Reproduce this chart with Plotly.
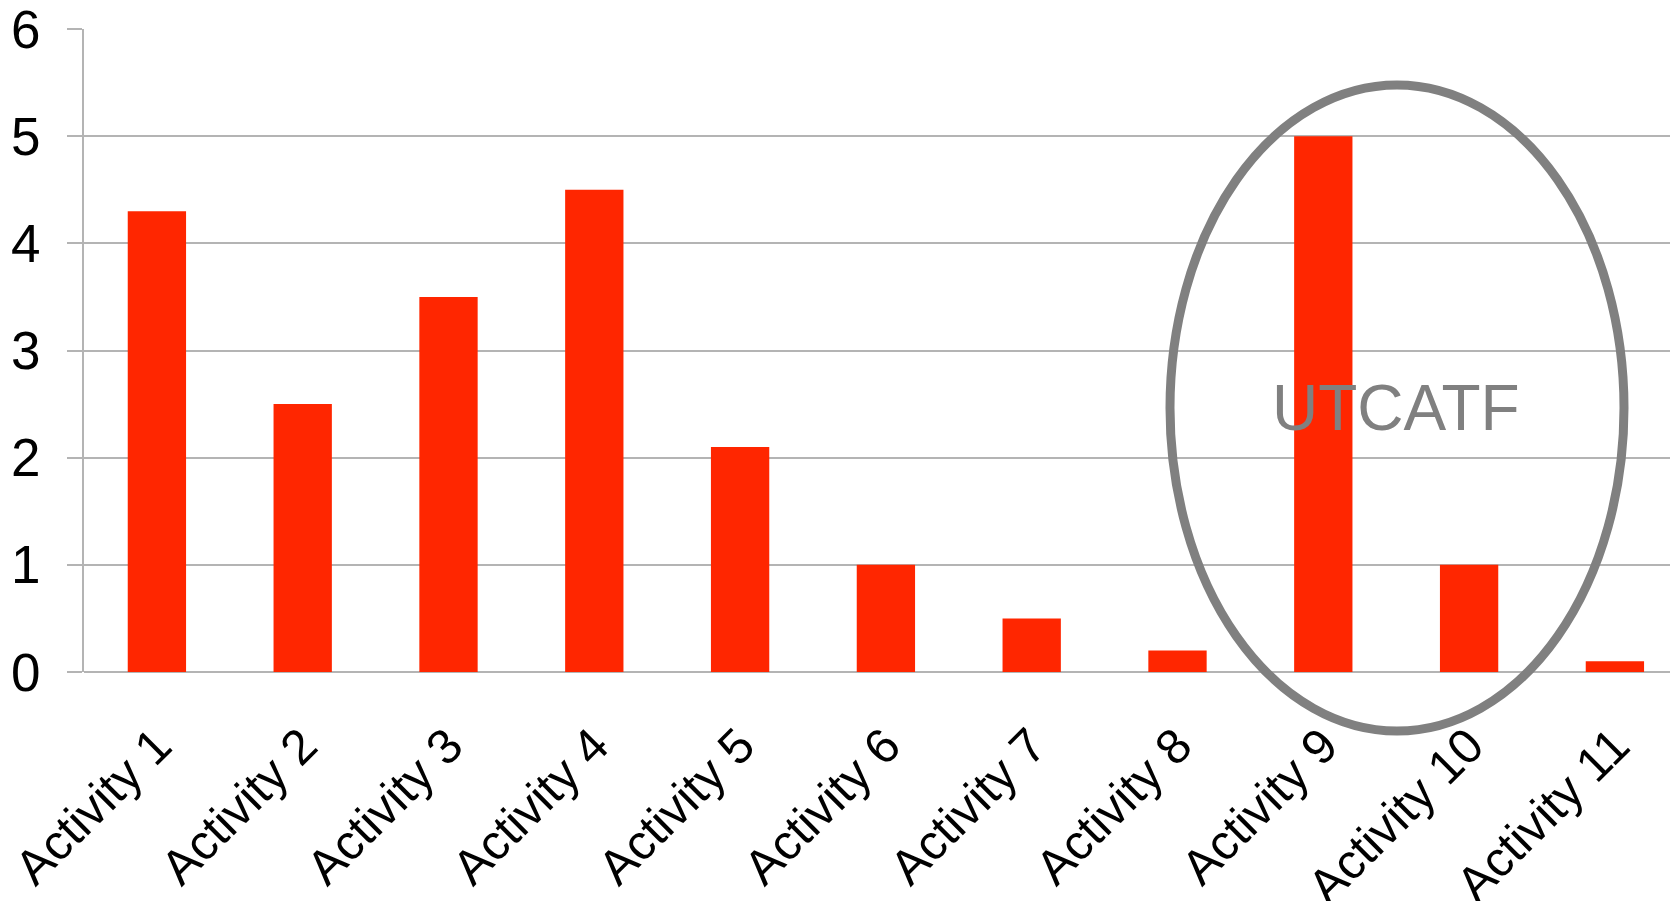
import plotly.graph_objects as go

categories = ["Activity 1", "Activity 2", "Activity 3", "Activity 4", "Activity 5",
              "Activity 6", "Activity 7", "Activity 8", "Activity 9", "Activity 10",
              "Activity 11"]
values = [4.3, 2.5, 3.5, 4.5, 2.1, 1.0, 0.5, 0.2, 5.0, 1.0, 0.1]
y_ticks = [0, 1, 2, 3, 4, 5, 6]
highlight_label = "UTCATF"

W, H = 1670, 901
L, T, B = 84, 29, 229
plot_w = W - L
plot_h = H - T - B

fig = go.Figure()
fig.add_trace(go.Bar(x=categories, y=values, marker=dict(color="#FF2600", line=dict(width=0)),
                     showlegend=False))

grid_col = "#B4B4B4"
fig.update_layout(
    width=W, height=H,
    margin=dict(l=L, r=0, t=T, b=B, autoexpand=False),
    paper_bgcolor="white", plot_bgcolor="white",
    bargap=0.6,
    font=dict(family="Liberation Sans, Arial, sans-serif", color="black"),
)
fig.update_xaxes(
    type="category", range=[-0.5, -0.5 + plot_w / 145.8],
    tickangle=-45, tickfont=dict(size=49, color="black"),
    showgrid=False, showline=False, ticks="", ticklabelstandoff=34,
    ticklabeloverflow="allow",
)
fig.update_yaxes(
    range=[0, 6], tickvals=y_ticks, tickfont=dict(size=53, color="black"),
    showgrid=True, gridcolor=grid_col, gridwidth=2,
    showline=True, linecolor=grid_col, linewidth=2,
    ticks="outside", ticklen=15, tickcolor=grid_col, tickwidth=2,
    ticklabelstandoff=16, zeroline=True, zerolinecolor=grid_col, zerolinewidth=2,
    ticklabeloverflow="allow",
)

def px_x(x):
    return (x - L) / plot_w

def px_y(y):
    return (H - B - y) / plot_h

fig.add_shape(type="circle", xref="paper", yref="paper",
              x0=px_x(1170), x1=px_x(1624), y0=px_y(731), y1=px_y(85),
              line=dict(color="#808080", width=9), layer="above")
fig.add_annotation(x=px_x(1396), y=px_y(408), xref="paper", yref="paper",
                   text=highlight_label, showarrow=False,
                   font=dict(size=64, color="#808080", family="Liberation Sans, Arial, sans-serif"),
                   xanchor="center", yanchor="middle")

fig.write_html("out.html")
